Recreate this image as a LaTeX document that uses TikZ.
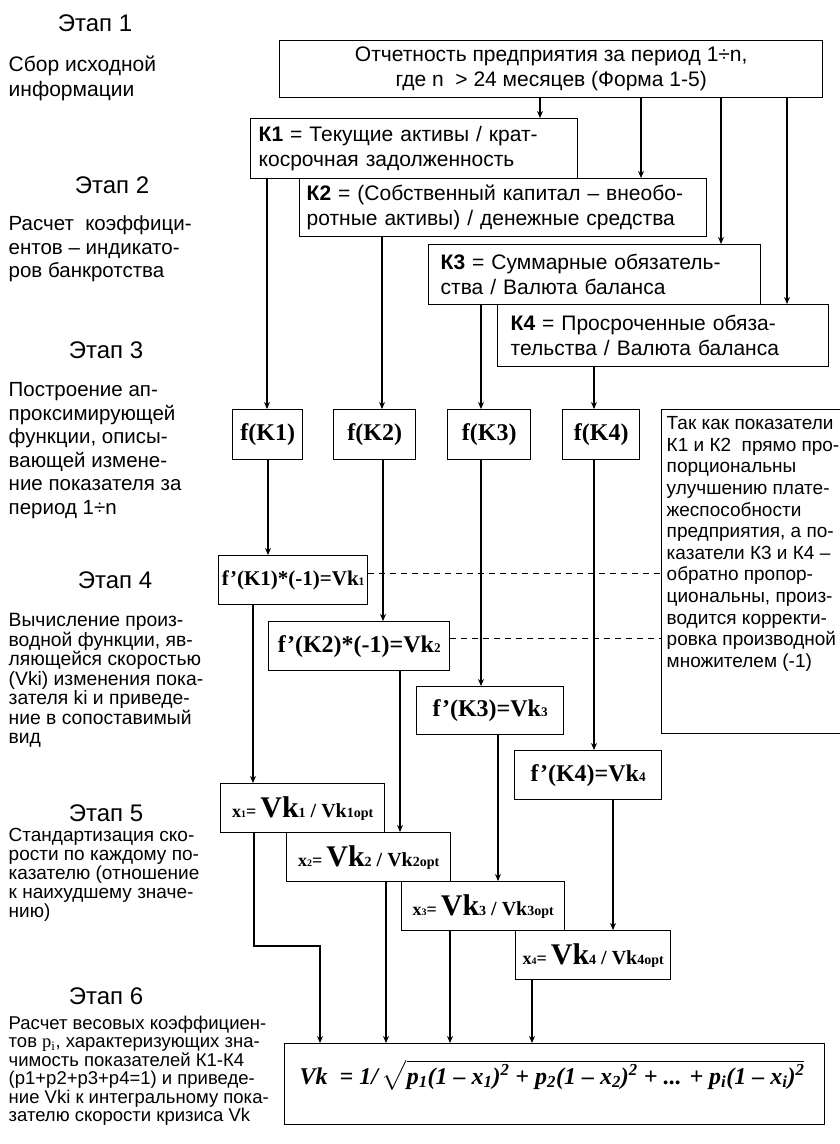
\documentclass[tikz,border=0pt]{standalone}
\usepackage{exscale}
\usepackage{fontspec}
\setmainfont{Liberation Sans}
\newfontfamily\tms{Liberation Serif}
\usetikzlibrary{arrows.meta}
\newcommand\kfont{\fontsize{21}{25}\selectfont}
\newcommand\smallsub[1]{\scalebox{.55}{#1}}
\newcommand\xratio[1]{{\fontsize{18}{18}\selectfont x\smallsub{#1}=}\,{\fontsize{30}{30}\selectfont Vk}{\fontsize{14}{14}\selectfont #1}{\fontsize{20}{20}\selectfont\ / Vk}{\fontsize{14}{14}\selectfont #1opt}}

\begin{document}
\begin{tikzpicture}[x=1pt, y=-1pt, line width=1.4pt, >={Stealth[length=7pt,width=6pt]},
    box/.style={draw, anchor=north west, inner sep=0pt},
    fbox/.style={box, font=\tms\bfseries\fontsize{24}{24}\selectfont},
    stage/.style={font=\fontsize{24}{26}\selectfont},
    desc/.style={anchor=north west, inner sep=0pt, align=left},
    hint/.style={line width=1pt, dash pattern=on 6pt off 5pt}]
\useasboundingbox (0,0) rectangle (839,1144);

% left column: stages
\node[stage] (s1) at (95,23) {Этап 1};
\node[desc, font=\fontsize{21}{25}\selectfont] (t1) at (8,55) {Сбор исходной\\информации};
\node[stage] (s2) at (112,185) {Этап 2};
\node[desc, font=\fontsize{20.5}{23.5}\selectfont] (t2) at (8,215) {Расчет\ \ коэффици-\\ентов -- индикато-\\ров банкротства};
\node[stage] (s3) at (106,350) {Этап 3};
\node[desc, font=\fontsize{20.5}{23.5}\selectfont] (t3) at (8,382) {Построение ап-\\проксимирующей\\функции, описы-\\вающей измене-\\ние показателя за\\период 1÷n};
\node[stage] (s4) at (115,580) {Этап 4};
\node[desc, font=\fontsize{19.3}{19.5}\selectfont] (t4) at (8,613) {Вычисление произ-\\водной функции, яв-\\ляющейся скоростью\\(Vki) изменения пока-\\зателя ki и приведе-\\ние в сопоставимый\\вид};
\node[stage] (s5) at (106,813) {Этап 5};
\node[desc, font=\fontsize{19}{19}\selectfont] (t5) at (8,828) {Стандартизация ско-\\рости по каждому по-\\казателю (отношение\\к наихудшему значе-\\нию)};
\node[stage] (s6) at (106,996) {Этап 6};
\node[desc, font=\fontsize{18.5}{18.5}\selectfont] (t6) at (8,1015) {Расчет весовых коэффициен-\\тов {\tms p\textsubscript{i}}, характеризующих зна-\\чимость показателей К1-К4\\(p1+p2+p3+p4=1) и приведе-\\ние Vki к интегральному пока-\\зателю скорости кризиса Vk};

% source and indicators
\node[box, minimum width=543pt, minimum height=57pt, align=center, font=\kfont] (top) at (279,40) {Отчетность предприятия за период 1÷n,\\где n\ \ > 24 месяцев (Форма 1-5)};
\node[box, minimum width=327pt, minimum height=60pt, text width=311pt, align=left, font=\kfont] (k1) at (250,118) {\textbf{К1} = Текущие активы / крат-\\косрочная задолженность};
\node[box, minimum width=407pt, minimum height=58pt, text width=393pt, align=left, font=\kfont] (k2) at (299,178) {\textbf{К2} = (Собственный капитал -- внеобо-\\ротные активы) / денежные средства};
\node[box, minimum width=332pt, minimum height=60pt, text width=308pt, align=left, font=\kfont] (k3) at (428,244) {\textbf{К3} = Суммарные обязатель-\\ства / Валюта баланса};
\node[box, minimum width=331pt, minimum height=62pt, text width=305pt, align=left, font=\kfont] (k4) at (497,304) {\textbf{К4} = Просроченные обяза-\\тельства / Валюта баланса};

% functions
\node[fbox, minimum width=70pt, minimum height=50pt] (f1) at (232,409) {f(K1)};
\node[fbox, minimum width=82pt, minimum height=50pt] (f2) at (333,409) {f(K2)};
\node[fbox, minimum width=83pt, minimum height=50pt] (f3) at (447,409) {f(K3)};
\node[fbox, minimum width=77pt, minimum height=50pt] (f4) at (562,409) {f(K4)};

\node[box, minimum width=184pt, minimum height=324pt] (note) at (661,409) {};
\node[desc, font=\fontsize{19}{21.6}\selectfont] (notetxt) at (666,416) {Так как показатели\\К1 и К2\ \ прямо про-\\порциональны\\улучшению плате-\\жеспособности\\предприятия, а по-\\казатели К3 и К4 --\\обратно пропор-\\циональны, произ-\\водится корректи-\\ровка производной\\множителем (-1)};

% derivatives
\node[fbox, minimum width=149pt, minimum height=49pt, font=\tms\bfseries\fontsize{21}{21}\selectfont] (d1) at (218,555) {f’(K1)*(-1)=Vk\smallsub{1}};
\node[fbox, minimum width=181pt, minimum height=49pt] (d2) at (268,621) {f’(K2)*(-1)=Vk\smallsub{2}};
\node[fbox, minimum width=147pt, minimum height=48pt] (d3) at (416,686) {f’(K3)=Vk\smallsub{3}};
\node[fbox, minimum width=147pt, minimum height=49pt] (d4) at (514,750) {f’(K4)=Vk\smallsub{4}};

% standardised speeds
\node[fbox, minimum width=164pt, minimum height=49pt] (x1) at (220,783) {\xratio{1}};
\node[fbox, minimum width=164pt, minimum height=49pt] (x2) at (286,832) {\xratio{2}};
\node[fbox, minimum width=163pt, minimum height=49pt] (x3) at (401,881) {\xratio{3}};
\node[fbox, minimum width=155pt, minimum height=49pt] (x4) at (515,930) {\xratio{4}};

\node[box, minimum width=540pt, minimum height=81pt] (vk) at (284,1043) {};
\node[font=\tms\bfseries\itshape\fontsize{24}{28}\selectfont] (vkf) at (552,1075) {Vk\ \ = 1/\,$\sqrt{\mbox{p\textsubscript{1}(1 – x\textsubscript{1})\textsuperscript{2} + p\textsubscript{2}(1 – x\textsubscript{2})\textsuperscript{2} + ... + p\textsubscript{i}(1 – x\textsubscript{i})\textsuperscript{2}}}$};

% connectors
\draw[->] (top.south -| 540,0) -- (k1.north -| 540,0);
\draw[->] (top.south -| 641,0) -- (k2.north -| 641,0);
\draw[->] (top.south -| 721,0) -- (k3.north -| 721,0);
\draw[->] (top.south -| 787,0) -- (k4.north -| 787,0);
\draw[->] (k1.south -| 267,0) -- (f1.north -| 267,0);
\draw[->] (k2.south -| 382,0) -- (f2.north -| 382,0);
\draw[->] (k3.south -| 481,0) -- (f3.north -| 481,0);
\draw[->] (k4.south -| 594,0) -- (f4.north -| 594,0);
\draw[->] (f1.south -| 268,0) -- (d1.north -| 268,0);
\draw[->] (f2.south -| 383,0) -- (d2.north -| 383,0);
\draw[->] (f3.south -| 481,0) -- (d3.north -| 481,0);
\draw[->] (f4.south -| 594,0) -- (d4.north -| 594,0);
\draw[->] (d1.south -| 253,0) -- (x1.north -| 253,0);
\draw[->] (d2.south -| 400,0) -- (x2.north -| 400,0);
\draw[->] (d3.south -| 498,0) -- (x3.north -| 498,0);
\draw[->] (d4.south -| 613,0) -- (x4.north -| 613,0);
\draw[->] (x1.south -| 254,0) -- (254,946) -- (320,946) -- (vk.north -| 320,0);
\draw[->] (x2.south -| 386,0) -- (vk.north -| 386,0);
\draw[->] (x3.south -| 450,0) -- (vk.north -| 450,0);
\draw[->] (x4.south -| 532,0) -- (vk.north -| 532,0);
\draw[hint] (d1.east |- 0,573) -- (note.west |- 0,573);
\draw[hint] (d2.east |- 0,638) -- (note.west |- 0,638);
\end{tikzpicture}
\end{document}
